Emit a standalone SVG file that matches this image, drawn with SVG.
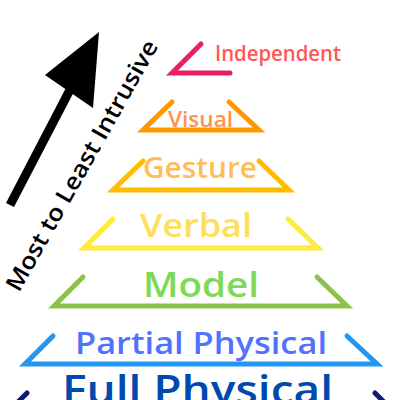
<svg xmlns="http://www.w3.org/2000/svg" width="400" height="400" viewBox="0 0 400 400">
<style>
.t{font-family:"Open Sans","Noto Sans",sans-serif;font-weight:600;}
.ln{fill:none;stroke-width:5;stroke-linecap:round;stroke-linejoin:miter;}
</style>
<rect width="400" height="400" fill="#ffffff"/>
<g id="connectors">
<line x1="10" y1="205" x2="73" y2="84" stroke="#000" stroke-width="9"/>
<polygon points="99,32 45,75 93,108" fill="#000"/>
</g>
<text class="t" font-size="23.5" fill="#000" transform="translate(19,293) rotate(-60.5)" textLength="284" lengthAdjust="spacingAndGlyphs">Most to Least Intrusive</text>
<g id="independent">
<polyline class="ln" stroke="#e91e63" points="201,44 172,73 230,73"/>
<text class="t" x="215" y="61" font-size="21" fill="#ff5757" textLength="126" lengthAdjust="spacingAndGlyphs">Independent</text>
</g>
<g id="visual">
<polyline class="ln" stroke="#ff9800" points="172,102 143,130 259,130 229,102"/>
<text class="t" x="168" y="127" font-size="22" fill="#ff914d" textLength="65" lengthAdjust="spacingAndGlyphs">Visual</text>
</g>
<g id="gesture">
<polyline class="ln" stroke="#ffbc00" points="143,161 113,190 289,190 259,161"/>
<text class="t" x="143" y="178" font-size="28" fill="#ffbd59" textLength="114" lengthAdjust="spacingAndGlyphs">Gesture</text>
</g>
<g id="verbal">
<polyline class="ln" stroke="#ffeb3b" points="113,219 84,248 318,248 288,219"/>
<text class="t" x="140" y="237" font-size="33" fill="#ffde59" textLength="112" lengthAdjust="spacingAndGlyphs">Verbal</text>
</g>
<g id="model">
<polyline class="ln" stroke="#8bc34a" points="83,277 54,306 347,306 317,277"/>
<text class="t" x="143" y="297" font-size="34" fill="#7ed957" textLength="116" lengthAdjust="spacingAndGlyphs">Model</text>
</g>
<g id="partial-physical">
<polyline class="ln" stroke="#2196f3" points="53,336 25,364 377,364 347,336"/>
<text class="t" x="75" y="354" font-size="30" fill="#5271ff" textLength="252" lengthAdjust="spacingAndGlyphs">Partial Physical</text>
</g>
<g id="full-physical">
<polyline class="ln" stroke="#0d1a6e" points="27,393 -2,422 404,422 375,393"/>
<text class="t" x="62" y="404" font-size="40" fill="#004aad" textLength="271" lengthAdjust="spacingAndGlyphs">Full Physical</text>
</g>
</svg>
